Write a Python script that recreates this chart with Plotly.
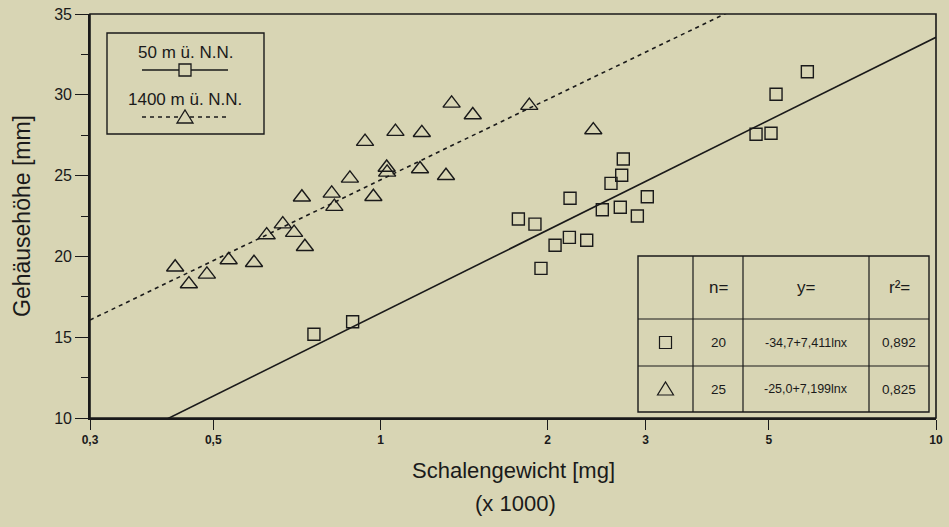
import numpy as np
import plotly.graph_objects as go

# ---------------- data ----------------
# 50 m ü. N.N. (squares), x in mg x 1000
sq_x = [0.759, 0.891, 1.771, 1.897, 1.945, 2.062, 2.188, 2.194, 2.351, 2.508,
        2.600, 2.702, 2.718, 2.736, 2.900, 3.022, 4.743, 5.047, 5.153, 5.867]
sq_y = [15.18, 15.96, 22.31, 22.00, 19.26, 20.69, 21.18, 23.60, 21.00, 22.89,
        24.52, 23.04, 25.02, 26.03, 22.50, 23.69, 27.56, 27.62, 30.03, 31.43]

# 1400 m ü. N.N. (triangles)
tr_x = [0.427, 0.452, 0.487, 0.533, 0.592, 0.624, 0.667, 0.699, 0.731, 0.722,
        0.817, 0.826, 0.881, 0.938, 1.026, 1.028, 0.971, 1.064, 1.187, 1.343,
        1.466, 1.178, 1.312, 1.853, 2.416]
tr_y = [19.33, 18.29, 18.89, 19.78, 19.61, 21.32, 22.00, 21.47, 20.60, 23.66,
        23.90, 23.08, 24.83, 27.10, 25.50, 25.20, 23.69, 27.72, 27.65, 29.47,
        28.75, 25.41, 24.99, 29.33, 27.82]

# regression (y = a + b ln x, x in mg)
fit_sq = dict(a=-34.7, b=7.411)
fit_tr = dict(a=-25.0, b=7.199)

x_ticks = [0.3, 0.5, 1, 2, 3, 5, 10]
x_ticktext = ["0,3", "0,5", "1", "2", "3", "5", "10"]
y_ticks = [10, 15, 20, 25, 30, 35]

table_header = ["n=", "y=", "r²="]
table_rows = [["20", "-34,7+7,411lnx", "0,892"],
              ["25", "-25,0+7,199lnx", "0,825"]]

legend_labels = ["50 m ü. N.N.", "1400 m ü. N.N."]

# ---------------- figure ----------------
W, H = 949, 527
L, R, T, B = 90, 936, 14, 418
BG = "#d8d5b4"
INK = "#1a1a1a"
FONT = "Liberation Sans, Arial, sans-serif"


def px(x):
    return (x - L) / (R - L)


def py(y):
    return (B - y) / (B - T)


def text(t, x, y, size, angle=0):
    return dict(text=t, x=px(x), y=py(y), xref="paper", yref="paper",
                xanchor="center", yanchor="middle", showarrow=False, textangle=angle,
                font=dict(family=FONT, size=size, color=INK))


line_x = np.logspace(np.log10(0.3), np.log10(10), 200)

fig = go.Figure()
fig.add_trace(go.Scatter(
    x=line_x, y=fit_sq["a"] + fit_sq["b"] * np.log(line_x * 1000),
    mode="lines", line=dict(color=INK, width=1.6), hoverinfo="skip"))
fig.add_trace(go.Scatter(
    x=line_x, y=fit_tr["a"] + fit_tr["b"] * np.log(line_x * 1000),
    mode="lines", line=dict(color=INK, width=1.6, dash="4px,4px"), hoverinfo="skip"))
fig.add_trace(go.Scatter(
    x=sq_x, y=sq_y, mode="markers",
    marker=dict(symbol="square-open", size=12, color=INK, line=dict(width=1.4, color=INK))))
fig.add_trace(go.Scatter(
    x=tr_x, y=tr_y, mode="markers",
    marker=dict(symbol="triangle-up-open", size=15, color=INK, line=dict(width=1.4, color=INK))))

shapes = []
annos = []

# plot frame (top and right)
shapes.append(dict(type="rect", xref="paper", yref="paper", x0=0, x1=1, y0=0, y1=1,
                   line=dict(color=INK, width=1.6), layer="above"))

# legend box
lx0, lx1, ly0, ly1 = 107, 264, 33, 134
shapes.append(dict(type="rect", xref="paper", yref="paper",
                   x0=px(lx0), x1=px(lx1), y0=py(ly1), y1=py(ly0),
                   line=dict(color=INK, width=1.4)))
shapes.append(dict(type="line", xref="paper", yref="paper",
                   x0=px(142), x1=px(228), y0=py(70), y1=py(70),
                   line=dict(color=INK, width=1.4)))
shapes.append(dict(type="line", xref="paper", yref="paper",
                   x0=px(142), x1=px(228), y0=py(117), y1=py(117),
                   line=dict(color=INK, width=1.4, dash="4px,4px")))
# legend symbols
shapes.append(dict(type="rect", xref="paper", yref="paper",
                   x0=px(179), x1=px(191), y0=py(76), y1=py(64),
                   line=dict(color=INK, width=1.3), fillcolor=BG))
shapes.append(dict(type="path", xref="paper", yref="paper",
                   path=f"M {px(177)},{py(123)} L {px(193)},{py(123)} L {px(185)},{py(110)} Z",
                   line=dict(color=INK, width=1.3), fillcolor=BG))
annos.append(text(legend_labels[0], 185, 53, 17))
annos.append(text(legend_labels[1], 185, 100, 17))

# table
cols = [638, 693, 743, 869, 929]
rows = [256, 319, 366, 412]
shapes.append(dict(type="rect", xref="paper", yref="paper",
                   x0=px(cols[0]), x1=px(cols[-1]), y0=py(rows[-1]), y1=py(rows[0]),
                   line=dict(color=INK, width=1.4), fillcolor=BG, layer="above"))
for cx in cols[1:-1]:
    shapes.append(dict(type="line", xref="paper", yref="paper",
                       x0=px(cx), x1=px(cx), y0=py(rows[-1]), y1=py(rows[0]),
                       line=dict(color=INK, width=1.2), layer="above"))
for ry in rows[1:-1]:
    shapes.append(dict(type="line", xref="paper", yref="paper",
                       x0=px(cols[0]), x1=px(cols[-1]), y0=py(ry), y1=py(ry),
                       line=dict(color=INK, width=1.2), layer="above"))

centers_x = [(cols[i] + cols[i + 1]) / 2 for i in range(4)]
centers_y = [(rows[i] + rows[i + 1]) / 2 for i in range(3)]
for j, t in enumerate(table_header):
    annos.append(text(t, centers_x[j + 1], centers_y[0], 17))
for i, row in enumerate(table_rows):
    for j, t in enumerate(row):
        annos.append(text(t, centers_x[j + 1], centers_y[i + 1], 12.5 if j == 1 else 13.5))
# table symbols
cx, cy = centers_x[0], centers_y[1]
shapes.append(dict(type="rect", xref="paper", yref="paper",
                   x0=px(cx - 6), x1=px(cx + 6), y0=py(cy + 6), y1=py(cy - 6),
                   line=dict(color=INK, width=1.2), layer="above"))
cy = centers_y[2]
shapes.append(dict(type="path", xref="paper", yref="paper",
                   path=f"M {px(cx - 8)},{py(cy + 6)} L {px(cx + 8)},{py(cy + 6)} L {px(cx)},{py(cy - 7)} Z",
                   line=dict(color=INK, width=1.2), layer="above"))

# axis titles
annos.append(text("Schalengewicht [mg]", 513, 470, 22))
annos.append(text("(x 1000)", 515, 503, 22))
annos.append(text("Gehäusehöhe [mm]", 22, 216, 23, angle=-90))

fig.update_layout(
    width=W, height=H,
    margin=dict(l=L, r=W - R, t=T, b=H - B, autoexpand=False),
    paper_bgcolor=BG, plot_bgcolor=BG,
    showlegend=False,
    shapes=shapes, annotations=annos,
    xaxis=dict(type="log", range=[np.log10(0.3), 1], tickvals=x_ticks,
               ticktext=[f"<b>{t}</b>" for t in x_ticktext], automargin=False,
               ticks="outside", ticklen=10, tickwidth=1.4, tickcolor=INK,
               showline=True, linecolor=INK, linewidth=1.6, showgrid=False, zeroline=False,
               tickfont=dict(family=FONT, size=12, color=INK)),
    yaxis=dict(range=[10, 35], tickvals=y_ticks, automargin=False,
               ticks="outside", ticklen=13, tickwidth=1.4, tickcolor=INK,
               minor=dict(dtick=2.5, tick0=10, ticks="outside", ticklen=7, tickwidth=1.2, tickcolor=INK),
               showline=True, linecolor=INK, linewidth=1.6, showgrid=False, zeroline=False,
               tickfont=dict(family=FONT, size=16, color=INK)),
)

fig.write_html(
    "out.html",
    config={"displayModeBar": False},
    post_script="document.body.style.margin='0';document.body.style.background='" + BG + "';",
)
